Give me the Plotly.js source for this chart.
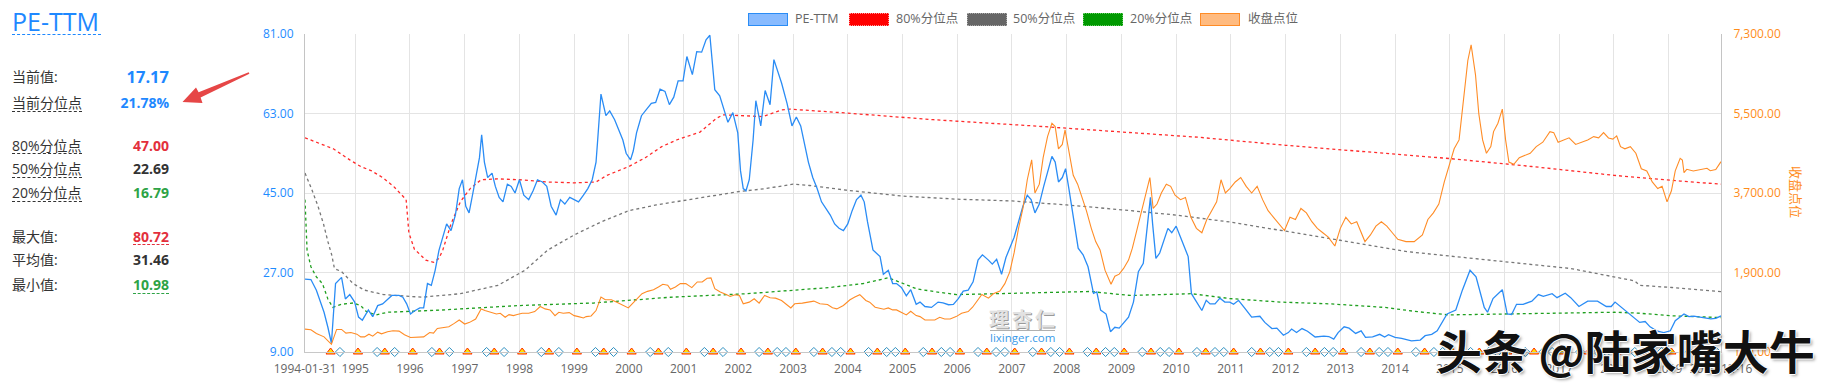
<!DOCTYPE html>
<html><head><meta charset="utf-8">
<script src="https://cdn.plot.ly/plotly-3.0.1.min.js"></script>
<style>
html,body{margin:0;padding:0;background:#fff;}
#wrap{position:relative;width:1830px;height:387px;overflow:hidden;font-family:"Open Sans","Noto Sans CJK SC",sans-serif;}
#chart{position:absolute;left:0;top:0;width:1830px;height:387px;}
#overlay{position:absolute;left:0;top:0;width:1830px;height:387px;pointer-events:none;z-index:5;}
.abs{position:absolute;white-space:nowrap;}
</style></head><body>
<div id="wrap"><div id="chart"></div><div id="overlay"></div></div>
<script>
// ---------------- DATA ----------------
const pePoints = [[1994.082,25.5],[1994.19,25.4],[1994.29,23],[1994.36,20.3],[1994.43,18],[1994.50,14.6],[1994.565,10.98],[1994.64,24.5],[1994.75,25.9],[1994.82,21],[1994.90,22],[1994.99,20.3],[1995.06,16.9],[1995.13,16.2],[1995.24,18.5],[1995.32,17],[1995.41,19.5],[1995.50,19.9],[1995.59,21],[1995.67,21.8],[1995.80,21.8],[1995.87,21.4],[1995.94,19.9],[1996.01,17.6],[1996.08,18.3],[1996.18,19],[1996.25,19],[1996.32,24.5],[1996.39,24.1],[1996.46,27.5],[1996.53,32],[1996.60,35],[1996.67,38],[1996.75,36.5],[1996.83,40],[1996.90,46],[1996.96,48],[1997.02,42],[1997.08,40.5],[1997.15,45],[1997.22,50],[1997.27,53],[1997.31,58.2],[1997.36,52],[1997.42,48.5],[1997.50,49.5],[1997.56,46.5],[1997.63,44],[1997.70,43],[1997.78,47],[1997.85,46.5],[1997.92,45],[1998.00,48],[1998.08,44.5],[1998.17,43.5],[1998.25,45.5],[1998.33,48],[1998.42,47.5],[1998.50,46.5],[1998.58,42],[1998.67,40],[1998.75,43.5],[1998.83,42.5],[1998.92,44],[1999.00,43.5],[1999.08,43],[1999.17,44.5],[1999.25,46],[1999.33,48],[1999.40,52],[1999.43,57],[1999.49,67.4],[1999.58,62.5],[1999.65,63.6],[1999.74,61.6],[1999.82,59],[1999.89,57],[1999.95,54],[2000.03,52.5],[2000.08,54.5],[2000.14,58.6],[2000.23,62.5],[2000.32,63.8],[2000.41,65.3],[2000.49,65.5],[2000.57,68.5],[2000.66,68],[2000.74,65],[2000.82,66.7],[2000.90,70.4],[2000.99,70.4],[2001.06,75.9],[2001.16,71.8],[2001.24,77],[2001.33,76.9],[2001.41,79.7],[2001.48,80.72],[2001.57,68.4],[2001.66,67],[2001.81,61],[2001.90,63.2],[2001.99,58.6],[2002.04,50],[2002.09,46],[2002.14,45.5],[2002.20,48],[2002.27,57],[2002.32,65.9],[2002.41,60.2],[2002.49,68.2],[2002.58,65],[2002.65,75.2],[2002.79,69.9],[2002.89,65.3],[2002.98,60.2],[2003.06,62.2],[2003.14,60.2],[2003.20,57],[2003.28,52],[2003.36,48.5],[2003.44,46],[2003.52,43],[2003.60,41.5],[2003.68,40],[2003.76,38],[2003.84,37],[2003.92,36.5],[2004.00,38],[2004.08,41],[2004.16,43.5],[2004.24,44.5],[2004.30,43],[2004.36,38.5],[2004.42,34.5],[2004.46,32.1],[2004.59,30.6],[2004.65,26.6],[2004.74,27.5],[2004.82,24.5],[2004.89,24.5],[2004.98,23.6],[2005.07,21.7],[2005.15,23.1],[2005.25,19.8],[2005.32,20.3],[2005.41,19.3],[2005.53,19.1],[2005.65,20.3],[2005.74,20.1],[2005.84,19.7],[2005.93,19.8],[2006.02,21.1],[2006.11,22.8],[2006.20,23],[2006.29,24.9],[2006.38,29.8],[2006.46,31],[2006.57,29.8],[2006.64,28.9],[2006.72,30],[2006.81,26.6],[2006.89,30.4],[2006.96,32.5],[2007.04,35],[2007.12,38.5],[2007.20,42],[2007.28,44.5],[2007.35,43.5],[2007.42,40.5],[2007.50,42.5],[2007.58,46.5],[2007.65,50],[2007.73,53.3],[2007.79,52],[2007.85,47.5],[2007.92,48.5],[2007.98,50.5],[2008.04,46],[2008.10,41],[2008.16,36],[2008.21,32.5],[2008.30,31],[2008.39,28.3],[2008.49,22.3],[2008.55,22.6],[2008.62,18.5],[2008.72,17.6],[2008.80,13.6],[2008.88,14.6],[2008.96,14.4],[2009.04,15.7],[2009.13,16.9],[2009.22,20.3],[2009.31,27.2],[2009.40,29.1],[2009.45,35],[2009.50,42],[2009.53,44],[2009.57,38],[2009.60,33],[2009.63,30.2],[2009.70,31.4],[2009.77,34],[2009.85,37],[2009.92,36],[2010.00,37.5],[2010.08,35],[2010.15,33],[2010.22,30.6],[2010.28,22.2],[2010.37,20.3],[2010.47,18.4],[2010.55,20.7],[2010.62,19.9],[2010.71,19.9],[2010.80,21.2],[2010.89,20.3],[2010.98,20.3],[2011.05,19.8],[2011.14,20.7],[2011.26,18.8],[2011.38,16.9],[2011.53,17.1],[2011.62,15.7],[2011.75,14.3],[2011.84,14.4],[2011.96,12.8],[2012.05,13.4],[2012.11,14.2],[2012.20,13.4],[2012.30,14.3],[2012.40,13.7],[2012.54,12.4],[2012.70,12.6],[2012.79,12.5],[2012.88,11.9],[2012.96,13.4],[2013.07,14.7],[2013.16,14.4],[2013.28,13.2],[2013.38,13.8],[2013.46,12.3],[2013.59,12.4],[2013.72,13],[2013.81,12.4],[2013.88,12.9],[2014.00,12.3],[2014.12,12.1],[2014.30,11.5],[2014.46,11.7],[2014.55,12.7],[2014.67,13],[2014.77,13.8],[2014.86,15.7],[2014.95,17.6],[2015.11,18.5],[2015.23,23],[2015.37,27.5],[2015.48,26],[2015.63,19.1],[2015.69,18],[2015.79,21.1],[2015.96,23.1],[2016.05,17.6],[2016.13,17.5],[2016.22,19.8],[2016.34,19.8],[2016.50,20.5],[2016.62,22],[2016.71,21.6],[2016.87,22.2],[2016.96,21.3],[2017.11,22.3],[2017.21,21.3],[2017.36,19.3],[2017.52,20.5],[2017.70,20.5],[2017.86,19.3],[2017.95,19.3],[2018.02,20.3],[2018.20,18.4],[2018.35,16.9],[2018.47,15.7],[2018.57,15.9],[2018.66,14.7],[2018.78,13.8],[2018.91,13.4],[2019.03,13.8],[2019.12,16.1],[2019.28,17.6],[2019.37,17],[2019.46,17.1],[2019.62,16.7],[2019.77,16.5],[2019.86,16.6],[2019.956,17.17]];

const closePoints = [[1994.082,619],[1994.19,603],[1994.29,520],[1994.43,443],[1994.565,275],[1994.66,611],[1994.75,611],[1994.83,527],[1994.92,542],[1995.03,504],[1995.10,443],[1995.17,443],[1995.25,504],[1995.32,458],[1995.41,550],[1995.48,512],[1995.59,558],[1995.69,580],[1995.80,573],[1995.90,489],[1996.01,428],[1996.15,443],[1996.25,443],[1996.36,542],[1996.43,527],[1996.50,634],[1996.60,657],[1996.71,672],[1996.81,748],[1996.90,825],[1997.00,733],[1997.09,771],[1997.20,847],[1997.30,1076],[1997.37,1038],[1997.46,1000],[1997.58,962],[1997.65,977],[1997.74,886],[1997.81,947],[1997.89,924],[1997.96,947],[1998.05,977],[1998.17,977],[1998.28,1015],[1998.38,1130],[1998.47,1076],[1998.56,1053],[1998.65,924],[1998.72,1000],[1998.80,977],[1998.91,992],[1999.00,924],[1999.08,901],[1999.17,870],[1999.22,901],[1999.31,916],[1999.40,1038],[1999.49,1343],[1999.57,1282],[1999.68,1282],[1999.78,1229],[1999.89,1168],[1999.99,1099],[2000.06,1191],[2000.17,1343],[2000.24,1419],[2000.34,1473],[2000.45,1511],[2000.54,1572],[2000.62,1633],[2000.71,1610],[2000.76,1519],[2000.85,1572],[2000.94,1648],[2001.04,1648],[2001.15,1557],[2001.25,1686],[2001.34,1686],[2001.43,1770],[2001.50,1778],[2001.57,1534],[2001.67,1458],[2001.78,1404],[2001.85,1358],[2001.94,1397],[2002.02,1381],[2002.09,1191],[2002.20,1229],[2002.29,1305],[2002.38,1206],[2002.48,1381],[2002.58,1328],[2002.68,1320],[2002.79,1267],[2002.96,1099],[2003.03,1191],[2003.17,1206],[2003.38,1252],[2003.49,1191],[2003.63,1175],[2003.72,1100],[2003.80,1076],[2003.92,1153],[2004.04,1282],[2004.13,1343],[2004.22,1397],[2004.33,1267],[2004.40,1229],[2004.50,1114],[2004.59,1092],[2004.66,1069],[2004.74,1099],[2004.82,1053],[2004.89,1053],[2004.98,1000],[2005.07,939],[2005.15,1023],[2005.25,924],[2005.32,901],[2005.41,825],[2005.50,825],[2005.59,825],[2005.68,886],[2005.77,847],[2005.87,847],[2005.98,901],[2006.08,977],[2006.20,1015],[2006.28,1114],[2006.35,1229],[2006.45,1404],[2006.57,1320],[2006.66,1419],[2006.78,1480],[2006.87,1648],[2006.96,1915],[2007.04,2350],[2007.12,2900],[2007.20,3350],[2007.28,4000],[2007.36,4450],[2007.42,3700],[2007.50,3900],[2007.57,4500],[2007.65,4976],[2007.73,5280],[2007.79,5203],[2007.85,4700],[2007.92,4800],[2007.97,5128],[2008.04,4600],[2008.12,4100],[2008.20,3900],[2008.28,3600],[2008.36,3300],[2008.45,2900],[2008.53,2600],[2008.61,2411],[2008.70,1953],[2008.81,1633],[2008.88,1816],[2008.96,1862],[2009.04,1992],[2009.13,2182],[2009.20,2450],[2009.28,2850],[2009.36,3250],[2009.44,3700],[2009.52,4050],[2009.58,3350],[2009.65,3450],[2009.73,3700],[2009.82,3900],[2009.90,3850],[2009.98,3650],[2010.08,3550],[2010.17,3600],[2010.27,3150],[2010.37,2900],[2010.47,2800],[2010.56,3100],[2010.65,3300],[2010.74,3500],[2010.82,4000],[2010.90,3700],[2010.98,3800],[2011.08,3950],[2011.18,4050],[2011.28,3850],[2011.38,3700],[2011.48,3850],[2011.58,3550],[2011.68,3300],[2011.78,3150],[2011.88,3000],[2011.98,2850],[2012.08,3150],[2012.18,3100],[2012.28,3350],[2012.38,3250],[2012.48,3050],[2012.58,2900],[2012.68,2800],[2012.78,2700],[2012.90,2500],[2013.00,2900],[2013.10,3150],[2013.20,3000],[2013.30,3050],[2013.45,2600],[2013.55,2750],[2013.65,2950],[2013.75,3050],[2013.85,2950],[2013.95,2800],[2014.05,2650],[2014.20,2600],[2014.35,2600],[2014.50,2750],[2014.60,3100],[2014.70,3250],[2014.80,3450],[2014.90,3950],[2015.00,4400],[2015.08,4700],[2015.17,4902],[2015.25,5800],[2015.33,6700],[2015.39,7056],[2015.47,6376],[2015.53,5500],[2015.60,4902],[2015.67,4600],[2015.75,4750],[2015.80,5090],[2015.88,5280],[2015.96,5598],[2016.02,4902],[2016.08,4400],[2016.17,4350],[2016.27,4500],[2016.37,4550],[2016.47,4600],[2016.58,4750],[2016.70,4850],[2016.83,5090],[2016.90,5067],[2016.98,4850],[2017.08,4900],[2017.18,4950],[2017.30,4800],[2017.42,4850],[2017.52,4900],[2017.63,4976],[2017.72,4950],[2017.81,5067],[2017.90,4947],[2017.98,4920],[2018.05,4992],[2018.12,4750],[2018.20,4700],[2018.30,4750],[2018.40,4600],[2018.50,4250],[2018.60,4200],[2018.70,3950],[2018.80,3800],[2018.88,3850],[2018.97,3500],[2019.05,3750],[2019.12,4200],[2019.21,4486],[2019.25,4448],[2019.28,4160],[2019.33,4236],[2019.45,4198],[2019.57,4221],[2019.70,4260],[2019.76,4205],[2019.86,4230],[2019.956,4410]];

const p80Points = [[1994.082,57.5],[1994.30,56.5],[1994.60,55],[1994.90,52.5],[1995.10,51],[1995.30,50],[1995.50,48.5],[1995.70,46.5],[1995.85,44.5],[1995.93,43.5],[1995.98,36],[1996.08,32.3],[1996.29,29.8],[1996.43,29.3],[1996.53,30.2],[1996.60,32.1],[1996.75,38],[1996.92,43],[1997.10,46],[1997.30,48],[1997.60,48.2],[1998.00,48],[1998.50,47.5],[1999.00,47.3],[1999.40,47.5],[1999.60,49],[2000.00,51],[2000.30,53],[2000.60,55.5],[2000.87,57],[2001.30,58.8],[2001.60,61.9],[2001.72,62.7],[2002.21,62.5],[2002.45,62.3],[2002.79,63.8],[2002.94,64],[2003.98,63.1],[2005.56,61.6],[2007.38,60.2],[2009.21,58.7],[2010.43,57.6],[2012.00,55.8],[2013.50,54.3],[2015.00,52.8],[2016.50,51],[2018.00,49],[2019.21,47.7],[2019.956,47.0]];

const p50Points = [[1994.082,49.5],[1994.20,46],[1994.32,42],[1994.42,38],[1994.50,34],[1994.57,31],[1994.62,27.9],[1994.75,27.2],[1994.96,24.5],[1995.17,23],[1995.52,22],[1996.22,21.4],[1996.92,22.2],[1997.61,24.1],[1998.10,27.5],[1998.52,32.1],[1999.00,35.5],[1999.50,38.5],[2000.00,41],[2000.50,42.3],[2001.00,43.3],[2001.50,44.3],[2002.00,45.3],[2002.50,46],[2003.00,47],[2003.30,46.7],[2004.00,45.6],[2005.00,44.3],[2006.00,43.6],[2007.00,43.2],[2008.00,42.3],[2009.00,41.2],[2010.00,40],[2011.00,38.4],[2012.00,36.4],[2013.00,34.3],[2014.24,31.7],[2015.97,29.4],[2017.21,27.9],[2018.38,25.1],[2018.47,24.1],[2019.06,23.6],[2019.956,22.69]];

const p20Points = [[1994.082,43.5],[1994.12,32],[1994.19,28.3],[1994.29,26],[1994.40,24.5],[1994.50,21],[1994.59,19.1],[1994.75,19.8],[1994.96,20.1],[1995.10,19.5],[1995.20,18.2],[1995.38,17.4],[1995.59,18],[1996.57,18.5],[1997.96,19.5],[1999.36,20.1],[2000.76,21.4],[2002.16,22.2],[2003.67,23.6],[2003.92,23.9],[2004.28,24.5],[2004.53,25.2],[2004.74,25.8],[2004.89,25.1],[2005.26,23.3],[2005.62,22.6],[2005.99,22],[2006.72,22.2],[2007.94,22.6],[2008.43,22.7],[2009.16,21.8],[2009.77,22],[2010.28,22.2],[2010.98,21.1],[2011.90,20.3],[2012.81,19.9],[2013.81,19.1],[2014.36,18.2],[2014.98,17.4],[2015.97,17.6],[2017.21,17.8],[2018.01,18],[2018.44,17.8],[2019.06,17.2],[2019.956,16.79]];

const triangleYears = [1994.55,1995.05,1995.54,1996.05,1996.54,1997.05,1997.54,1998.05,1998.54,1999.05,1999.54,2000.05,2000.54,2001.05,2001.54,2002.05,2002.54,2003.05,2003.54,2004.05,2004.54,2005.05,2005.54,2006.05,2006.54,2007.05,2007.54,2008.05,2008.54,2009.05,2009.54,2010.05,2010.54,2011.05,2011.54,2012.05,2012.54,2013.05,2013.54,2014.05,2014.54,2015.05,2015.54,2016.05,2016.54,2017.05,2017.54,2018.05,2018.54,2019.05,2019.54];

const diamondYears = [1994.72,1995.40,1995.72,1996.40,1996.72,1997.40,1997.72,1998.40,1998.72,1999.39,1999.72,2000.39,2000.72,2001.38,2001.72,2002.38,2002.71,2002.87,2003.38,2003.71,2003.87,2004.38,2004.71,2004.87,2005.38,2005.71,2005.87,2006.38,2006.71,2006.87,2007.38,2007.71,2007.87,2008.38,2008.71,2008.87,2009.38,2009.71,2009.87,2010.38,2010.71,2010.87,2011.38,2011.71,2011.87,2012.38,2012.71,2012.87,2013.38,2013.71,2013.87,2014.38,2014.71,2014.87,2015.38,2015.71,2015.87,2016.38,2016.71,2016.87,2017.38,2017.71,2017.87,2018.38,2018.71,2018.87,2019.38,2019.71,2019.87];

const yearTicks = [1994.082,1995,1996,1997,1998,1999,2000,2001,2002,2003,2004,2005,2006,2007,2008,2009,2010,2011,2012,2013,2014,2015,2016,2017,2018,2019,2019.956];
const yearLabels = ['1994-01-31','1995','1996','1997','1998','1999','2000','2001','2002','2003','2004','2005','2006','2007','2008','2009','2010','2011','2012','2013','2014','2015','2016','2017','2018','2019','2019-12-16'];

const seriesNames = ['PE-TTM','80%分位点','50%分位点','20%分位点','收盘点位'];
const statLabels = ['当前值:','当前分位点','80%分位点','50%分位点','20%分位点','最大值:','平均值:','最小值:'];
const statValues = ['17.17','21.78%','47.00','22.69','16.79','80.72','31.46','10.98'];
const rightAxisTitle = '收盘点位';
const panelTitle = 'PE-TTM';

// ---------------- CHART ----------------
const xs = a => a.map(p => p[0]);
const ys = a => a.map(p => p[1]);
const yMin = 9;

const traces = [
  {name:seriesNames[1], x:xs(p80Points), y:ys(p80Points), mode:'lines', line:{color:'#ff2b2b', width:1.3, dash:'dot'}, hoverinfo:'skip'},
  {name:seriesNames[2], x:xs(p50Points), y:ys(p50Points), mode:'lines', line:{color:'#777777', width:1.3, dash:'dot'}, hoverinfo:'skip'},
  {name:seriesNames[3], x:xs(p20Points), y:ys(p20Points), mode:'lines', line:{color:'#1f9f1f', width:1.3, dash:'dot'}, hoverinfo:'skip'},
  {name:seriesNames[0], x:xs(pePoints), y:ys(pePoints), mode:'lines', line:{color:'#2a8cf5', width:1.3}, hoverinfo:'skip'},
  {name:'report-a', x:triangleYears, y:triangleYears.map(() => yMin), mode:'markers', cliponaxis:false,
   marker:{symbol:'triangle-up', size:8, color:'#ffe400', line:{color:'#ff2a00', width:1}}, hoverinfo:'skip'},
  {name:'report-b', x:diamondYears, y:diamondYears.map(() => yMin), mode:'markers', cliponaxis:false,
   marker:{symbol:'diamond', size:7, color:'#ffffff', line:{color:'#2e8fc0', width:1}}, hoverinfo:'skip'},
  {name:seriesNames[4], x:xs(closePoints), y:ys(closePoints), yaxis:'y2', mode:'lines', line:{color:'#ff8c26', width:1.1}, hoverinfo:'skip'}
];

const layout = {
  width:1830, height:387,
  margin:{l:305, r:109, t:34, b:35, pad:0},
  paper_bgcolor:'#ffffff', plot_bgcolor:'#ffffff',
  showlegend:false,
  font:{family:'"Open Sans","Noto Sans CJK SC",sans-serif', size:12, color:'#666'},
  xaxis:{range:[1994.082,2019.956], tickmode:'array', tickvals:yearTicks, ticktext:yearLabels,
    showgrid:true, gridcolor:'#e4e4e4', gridwidth:1, showline:true, linecolor:'#c8c8c8', linewidth:1,
    ticks:'', ticklabelstandoff:6, tickfont:{color:'#666666', size:12}, zeroline:false},
  yaxis:{range:[9,81], tickmode:'linear', tick0:9, dtick:18, tickformat:'.2f',
    showgrid:true, gridcolor:'#e4e4e4', showline:true, linecolor:'#c4c4c4', linewidth:1,
    ticks:'', ticklabelstandoff:8, tickfont:{color:'#1e8cff', size:12}, zeroline:false},
  yaxis2:{range:[100,7300], tickmode:'linear', tick0:100, dtick:1800, tickformat:',.2f',
    overlaying:'y', side:'right', showgrid:false, showline:true, linecolor:'#c4c4c4', linewidth:1,
    ticks:'', ticklabelstandoff:9, tickfont:{color:'#ff8c1a', size:12}, zeroline:false},
  annotations:[{text:rightAxisTitle, textangle:90, xref:'paper', yref:'paper', x:1.0537, y:0.503,
    xanchor:'center', yanchor:'middle',
    showarrow:false, font:{color:'#ff8c1a', size:13, family:'"Noto Sans CJK SC",sans-serif'}}]
};

Plotly.newPlot('chart', traces, layout, {staticPlot:true, displayModeBar:false});

// ---------------- OVERLAY: left panel, legend, watermarks ----------------
const ov = document.getElementById('overlay');
function txt(s, o){
  const d = document.createElement('div');
  d.className = 'abs';
  d.textContent = s;
  const lh = o.lh || Math.round(o.size*1.2);
  d.style.fontSize = o.size + 'px';
  d.style.lineHeight = lh + 'px';
  d.style.height = lh + 'px';
  d.style.top = (o.yc - lh/2) + 'px';
  if (o.right != null) d.style.right = (1830 - o.right) + 'px'; else d.style.left = o.left + 'px';
  d.style.color = o.color || '#333';
  if (o.weight) d.style.fontWeight = o.weight;
  if (o.family) d.style.fontFamily = o.family;
  if (o.ls) d.style.letterSpacing = o.ls + 'px';
  if (o.shadow) d.style.textShadow = o.shadow;
  ov.appendChild(d);
  return d;
}
function dash(x1, x2, y, color){
  const d = document.createElement('div');
  d.className = 'abs';
  d.style.left = x1 + 'px'; d.style.top = y + 'px';
  d.style.width = (x2 - x1) + 'px'; d.style.height = '0px';
  d.style.borderTop = '1px dashed ' + color;
  ov.appendChild(d);
}

// panel title
txt(panelTitle, {left:12, yc:20.5, size:25, color:'#1e88ff', lh:28});
dash(12, 101, 34, '#1e88ff');

const rowY = [77.3, 103.3, 145.7, 169, 193.3, 236.7, 260, 285];
const rowValColor = ['#1e88ff','#1e88ff','#e3303c','#333333','#2ea346','#e3303c','#333333','#2ea346'];
const rowValSize = [16.5,14,14,14,14,14,14,14];
const rowLabelUnder = [null, 110.5, 152.5, 176.5, 200.5, null, null, null];
const rowValUnder = [null, null, null, null, null, 243.5, null, 292.5];
statLabels.forEach((s, i) => {
  txt(s, {left:12, yc:rowY[i], size:14, color:'#333', lh:18});
  txt(statValues[i], {right:169, yc:rowY[i], size:rowValSize[i], color:rowValColor[i], weight:700, lh:20});
  if (rowLabelUnder[i] != null) dash(12, 82, rowLabelUnder[i], '#333');
  if (rowValUnder[i] != null) dash(133, 169, rowValUnder[i], rowValColor[i]);
});

// red arrow
const svgNS = 'http://www.w3.org/2000/svg';
const svg = document.createElementNS(svgNS, 'svg');
svg.setAttribute('width', '1830'); svg.setAttribute('height', '387');
svg.style.position = 'absolute'; svg.style.left = '0'; svg.style.top = '0';
const poly = document.createElementNS(svgNS, 'polygon');
poly.setAttribute('points', '182.5,102 196,87.4 198.6,92.2 248.7,72.2 249.4,73.8 200.6,97.6 202.5,103');
poly.setAttribute('fill', '#e64646');
svg.appendChild(poly);
ov.appendChild(svg);

// legend
const legBoxX = [748, 849, 967, 1083, 1200];
const legTextX = [795, 896, 1013, 1130, 1248];
const legFill = ['#88bbff', '#ff0000', '#666666', '#009900', '#ffbb80'];
const legBorder = ['1px solid #2a8cf5', '1px dotted #ff9999', '1px dotted #aaaaaa', '1px dotted #66cc66', '1px solid #ff8c26'];
seriesNames.forEach((s, i) => {
  const b = document.createElement('div');
  b.className = 'abs';
  b.style.left = legBoxX[i] + 'px'; b.style.top = '12.5px';
  b.style.width = '38px'; b.style.height = '11px';
  b.style.background = legFill[i]; b.style.border = legBorder[i];
  ov.appendChild(b);
  txt(s, {left:legTextX[i], yc:19, size:12.5, color:'#666', lh:16});
});

// site watermark
txt('理杏仁', {left:989, yc:320, size:20, color:'#e2e2e2', lh:24, ls:3, weight:700,
  shadow:'1px 1px 0 #9a9a9a, -1px -1px 0 #ffffff'});
const ln = document.createElement('div');
ln.className = 'abs'; ln.style.left = '990px'; ln.style.top = '330px'; ln.style.width = '65px'; ln.style.height = '1px'; ln.style.background = '#b0b0b0';
ov.appendChild(ln);
txt('lixinger.com', {left:990, yc:337.5, size:11.5, color:'#3a9ae8', lh:14});

// toutiao watermark
txt('头条 @陆家嘴大牛', {left:1436, yc:348.5, size:46, color:'#111111', lh:54, weight:700,
  family:'"Noto Sans CJK SC",sans-serif',
  shadow:'1px 0 0 #fff, -1px 0 0 #fff, 0 1px 0 #fff, 0 -1px 0 #fff, 2px 2px 3px rgba(0,0,0,0.35)'});
</script></body></html>
